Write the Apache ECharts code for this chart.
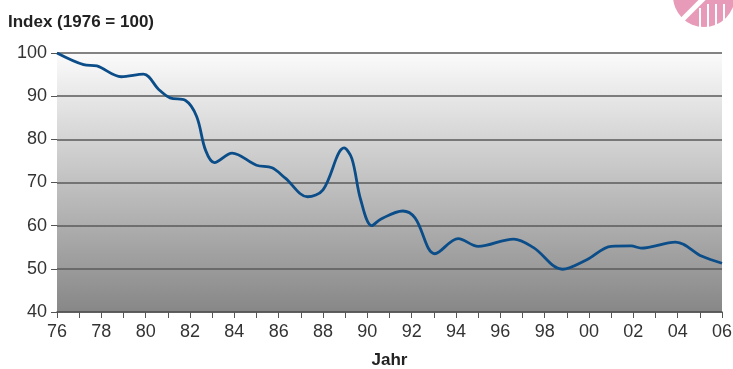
<!DOCTYPE html>
<html>
<head>
<meta charset="utf-8">
<script src="https://cdn.jsdelivr.net/npm/echarts@6/dist/echarts.min.js"></script>
<style>html,body{margin:0;padding:0;background:#fff}#main{width:733px;height:369px}</style>
</head>
<body>
<div id="main"></div>
<script>
var chartDom = document.getElementById('main');
var myChart = echarts.init(chartDom);
var option;

// Jahr (mit Zwischenpunkten) und Index-Werte
var years = [1976, 1977.2, 1977.8, 1978.9, 1979.9, 1980.6, 1981.1, 1981.8, 1982.3, 1982.7, 1983.1, 1983.9,
    1985, 1985.7, 1986.3, 1987.3, 1988, 1988.95, 1989.3, 1989.7, 1990.2, 1990.6, 1991.6, 1992.15,
    1993.05, 1994.1, 1995, 1996.6, 1997.5, 1998.8, 1999.9, 2001, 2001.9, 2002.35, 2003.9, 2005.1, 2006];
var values = [100, 97.3, 97, 94.5, 95.1, 91.5, 89.6, 89, 85.3, 77.5, 74.6, 76.8,
    74, 73.4, 71, 66.7, 68.3, 78, 75.6, 66, 60, 61.5, 63.4, 61.8,
    53.5, 57, 55.2, 56.9, 54.9, 49.9, 52.1, 55.2, 55.3, 54.8, 56.2, 52.9, 51.3];
var font = '"Liberation Sans", Arial, sans-serif';

option = {
    animation: false,
    title: {
        text: 'Index (1976 = 100)',
        left: 3, top: 9,
        textStyle: { fontFamily: font, fontSize: 17, fontWeight: 'bold', color: '#222' }
    },
    grid: {
        left: 57, right: 11, top: 53, bottom: 57,
        outerBoundsMode: 'none',
        show: true,
        borderWidth: 0,
        backgroundColor: new echarts.graphic.LinearGradient(0, 0, 0, 1, [
            { offset: 0, color: '#fbfbfb' },
            { offset: 1, color: '#878787' }
        ])
    },
    xAxis: {
        type: 'value',
        min: 1976, max: 2006, interval: 1,
        name: 'Jahr', nameLocation: 'middle', nameGap: 40,
        nameTextStyle: { fontFamily: font, fontSize: 17, fontWeight: 'bold', color: '#222' },
        axisLine: { show: true, lineStyle: { color: '#555', width: 1.5 } },
        axisTick: { show: true, length: 6, lineStyle: { color: '#555' } },
        splitLine: { show: false },
        axisLabel: {
            fontFamily: font, fontSize: 18, color: '#333', margin: 11,
            formatter: v => (v % 2 === 0) ? String(v).slice(2) : ''
        }
    },
    yAxis: {
        type: 'value',
        min: 40, max: 100, interval: 10,
        axisLine: { show: false },
        axisTick: { show: true, length: 6, lineStyle: { color: '#555' } },
        splitLine: { show: true, lineStyle: { color: '#5a5a5a', width: 1.5 } },
        axisLabel: { fontFamily: font, fontSize: 18, color: '#333', margin: 10 }
    },
    series: [{
        type: 'line',
        data: years.map((y, i) => [y, values[i]]),
        smooth: 0.35,
        showSymbol: false,
        lineStyle: { color: '#0b4d88', width: 2.8 }
    }],
    graphic: [
        { type: 'circle', shape: { cx: 704, cy: -4, r: 31 }, style: { fill: '#e79bb8' } },
        { type: 'line', shape: { x1: 670, y1: 32, x2: 710, y2: -8 }, style: { stroke: '#fff', lineWidth: 5 } },
        { type: 'line', shape: { x1: 700, y1: 8, x2: 700, y2: 30 }, style: { stroke: '#fff', lineWidth: 2 } },
        { type: 'line', shape: { x1: 708, y1: 4, x2: 708, y2: 30 }, style: { stroke: '#fff', lineWidth: 2 } },
        { type: 'line', shape: { x1: 716, y1: 4, x2: 716, y2: 30 }, style: { stroke: '#fff', lineWidth: 2 } },
        { type: 'line', shape: { x1: 724, y1: 4, x2: 724, y2: 30 }, style: { stroke: '#fff', lineWidth: 2 } }
    ]
};

option && myChart.setOption(option);
</script>
</body>
</html>
